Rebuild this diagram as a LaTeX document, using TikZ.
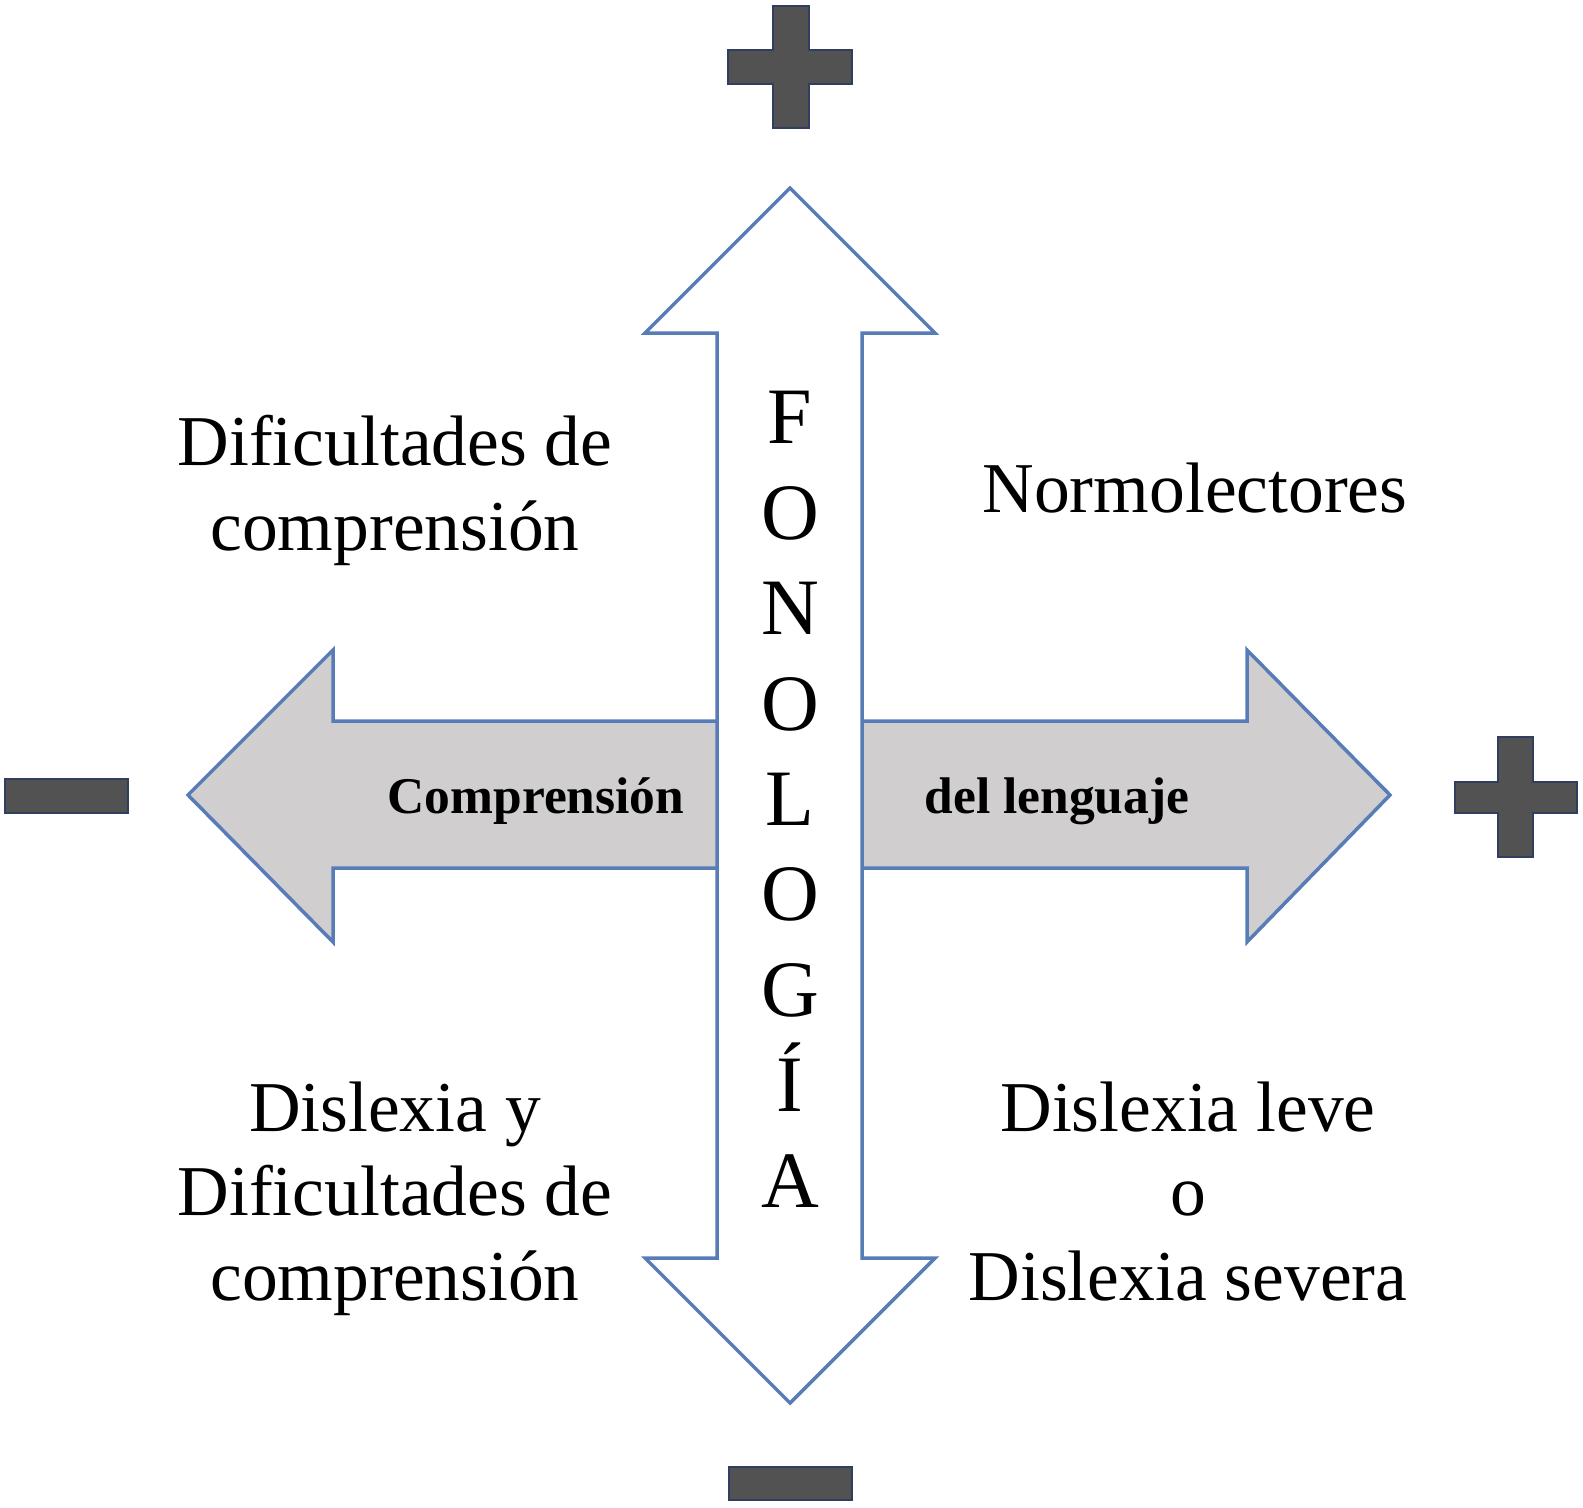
\documentclass[tikz,border=0pt]{standalone}
\usepackage{fontspec}
\setmainfont{Liberation Serif}
\definecolor{arrowline}{RGB}{88,124,184}
\definecolor{arrowfill}{RGB}{208,206,206}
\definecolor{signfill}{RGB}{82,82,82}
\definecolor{signline}{RGB}{48,62,96}
\begin{document}
\begin{tikzpicture}[x=1pt,y=-1pt,
  arrowshape/.style={draw=arrowline, line width=3.5pt, line join=miter},
  signshape/.style={fill=signfill, draw=signline, line width=2pt},
  label/.style={inner sep=0pt, align=center, font=\fontsize{71.5}{84.5}\selectfont},
  inlabel/.style={inner sep=0pt, font=\bfseries\fontsize{51.5}{60}\selectfont},
  axislabel/.style={inner sep=0pt, align=center, font=\fontsize{80}{95.4}\selectfont}]
\useasboundingbox (0,0) rectangle (1583,1508);
% horizontal double arrow (gray)
\draw[arrowshape, fill=arrowfill] (188,795) -- (333,650) -- (333,721) -- (1247,721) -- (1247,650)
  -- (1390,795) -- (1247,942) -- (1247,868) -- (333,868) -- (333,942) -- cycle;
% vertical double arrow (white)
\draw[arrowshape, fill=white] (790,188) -- (935,333) -- (862,333) -- (862,1258) -- (935,1258)
  -- (790,1403) -- (645,1258) -- (717,1258) -- (717,333) -- (645,333) -- cycle;
% signs
\draw[signshape] (773,6) -- (809,6) -- (809,50) -- (852,50) -- (852,84) -- (809,84) -- (809,128)
  -- (773,128) -- (773,84) -- (728,84) -- (728,50) -- (773,50) -- cycle;
\draw[signshape] (1498,737) -- (1533,737) -- (1533,782) -- (1577,782) -- (1577,813) -- (1533,813)
  -- (1533,857) -- (1498,857) -- (1498,813) -- (1455,813) -- (1455,782) -- (1498,782) -- cycle;
\draw[signshape] (5,779) rectangle (128,813);
\draw[signshape] (729,1467) rectangle (852,1500);
% labels (anchor=base refers to the last line's baseline)
\node[label, anchor=base] (tl) at (395,550) {Dificultades de\\comprensión};
\node[label, anchor=base] (tr) at (1195,512) {Normolectores};
\node[label, anchor=base] (bl) at (395,1300) {Dislexia y\\Dificultades de\\comprensión};
\node[label, anchor=base] (br) at (1188,1300) {Dislexia leve\\o\\Dislexia severa};
\node[inlabel, anchor=base] (cl) at (536,813) {Comprensión};
\node[inlabel, anchor=base] (cr) at (1057,813) {del lenguaje};
\node[axislabel, anchor=base] (fon) at (790,1207) {F\\O\\N\\O\\L\\O\\G\\Í\\A};
\end{tikzpicture}
\end{document}
